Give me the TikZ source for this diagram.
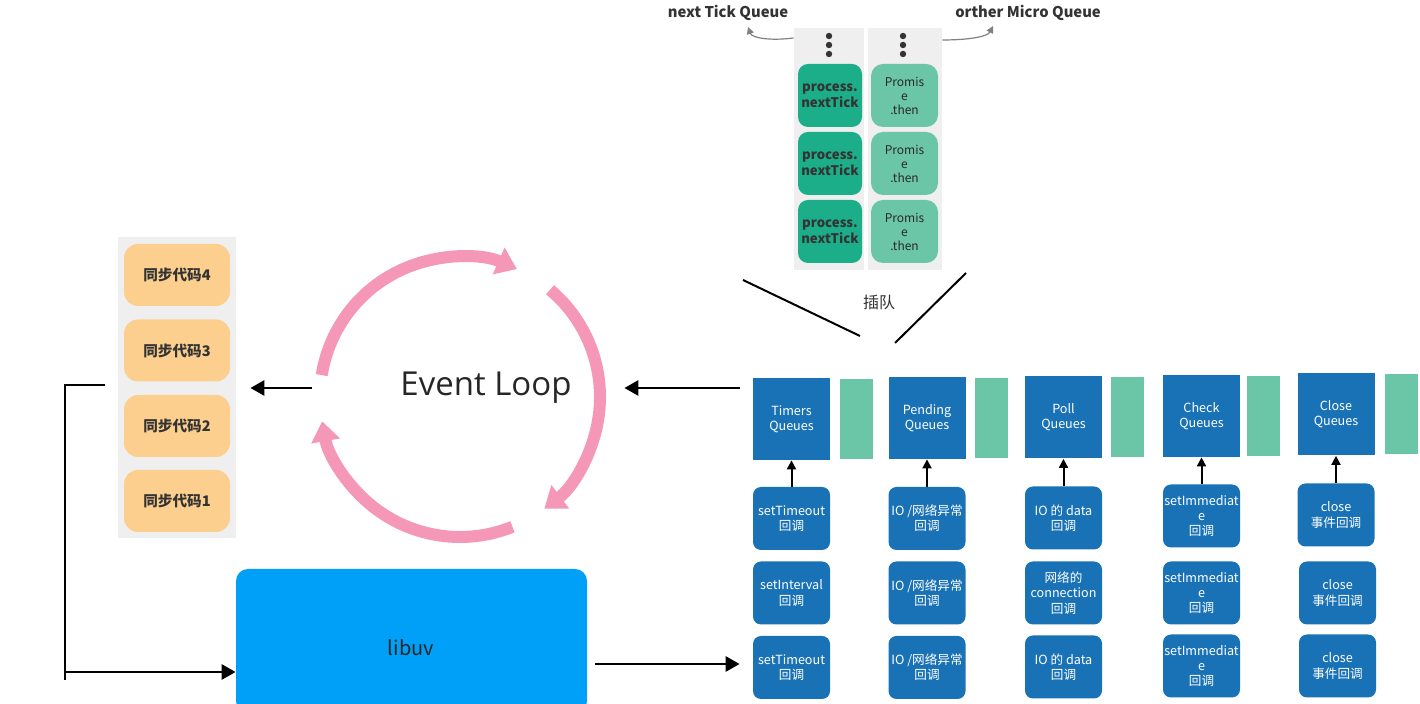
\documentclass[tikz,border=0pt]{standalone}
\usepackage{fontspec}
\setmainfont{Noto Sans CJK SC}
\newfontfamily\elfont{Open Sans}
\usetikzlibrary{arrows.meta}
\definecolor{pinkc}{HTML}{F598B8}
\definecolor{dblue}{HTML}{1A72B6}
\definecolor{lblue}{HTML}{00A0F8}
\definecolor{dgreen}{HTML}{1BAE88}
\definecolor{pgreen}{HTML}{6BC6A8}
\definecolor{orangec}{HTML}{FDCF8E}
\definecolor{grayc}{HTML}{EFEFEF}
\definecolor{txtc}{HTML}{333333}
\tikzset{
  qbox/.style={fill=dblue, text=white, minimum width=38.5pt, minimum height=41pt,
    font=\fontsize{6.3}{7.6}\selectfont, align=center, inner sep=0pt},
  cbbox/.style={qbox, rounded corners=4pt, minimum height=31.5pt},
  gbar/.style={fill=pgreen, minimum width=16.5pt, minimum height=40pt, inner sep=0pt},
  ntbox/.style={fill=dgreen, rounded corners=5pt, minimum width=32pt, minimum height=31.5pt,
    inner sep=0pt, align=center, text=txtc, font=\bfseries\fontsize{6.6}{8}\selectfont},
  prbox/.style={fill=pgreen, rounded corners=6pt, minimum width=33.5pt, minimum height=31.5pt,
    inner sep=0pt, align=center, text=txtc!80!black, font=\fontsize{6}{7}\selectfont},
  syncbox/.style={fill=orangec, rounded corners=7pt, minimum width=53pt, minimum height=31pt,
    inner sep=0pt, text=txtc, font=\bfseries\fontsize{7.3}{8}\selectfont},
  graybg/.style={fill=grayc, inner sep=0pt},
  bigarrow/.style={line width=1.4pt, -{Triangle[length=7pt,width=7.5pt]}},
  smallarrow/.style={line width=1pt, -{Triangle[length=4.5pt,width=4.5pt]}},
  looparc/.style={pinkc, line width=6pt, -{Triangle[length=10pt,width=14pt]}},
  toplabel/.style={font=\bfseries\fontsize{7.4}{9}\selectfont, text=txtc},
}
\begin{document}
\begin{tikzpicture}[x=0.5pt,y=-0.5pt]
\useasboundingbox[fill=white] (0,0) rectangle (1420,704);

% ---------- microtask queues ----------
\node[graybg, minimum width=35pt, minimum height=121pt] (ntcol) at (829,149) {};
\node[graybg, minimum width=37pt, minimum height=121pt] (prcol) at (905,149) {};
\foreach \yy in {36,45,54} {
  \fill[txtc] (829,\yy) circle (1.6pt);
  \fill[txtc] (903,\yy) circle (1.6pt);
}
\node[ntbox] (nt1) at (830,95.5) {process.\\nextTick};
\node[ntbox] (nt2) at (830,163.5) {process.\\nextTick};
\node[ntbox] (nt3) at (830,231.5) {process.\\nextTick};
\node[prbox] (pr1) at (904.5,95.5) {Promis\\e\\.then};
\node[prbox] (pr2) at (904.5,163.5) {Promis\\e\\.then};
\node[prbox] (pr3) at (904.5,231.5) {Promis\\e\\.then};

\node[toplabel] (ntlabel) at (728,13) {next Tick Queue};
\node[toplabel] (prlabel) at (1028,13) {orther Micro Queue};
\coordinate (ntl) at (748,27);
\coordinate (prl) at (993,26);
\draw[gray, line width=0.6pt, -{Triangle[length=3.5pt,width=3.5pt]}]
  (ntcol.west |- 0,38) .. controls (770,41) and (752,38) .. (ntl);
\draw[gray, line width=0.6pt, -{Triangle[length=3.5pt,width=3.5pt]}]
  (prcol.east |- 0,40) .. controls (972,40) and (988,36) .. (prl);

% insertion lines
\coordinate (l1a) at (743,280);
\coordinate (l1b) at (860,336);
\coordinate (l2a) at (966,273);
\coordinate (l2b) at (895,343);
\draw[line width=1pt] (l1a) -- (l1b);
\draw[line width=1pt] (l2a) -- (l2b);
\node[font=\fontsize{8}{9}\selectfont, text=txtc] (cd) at (879,302) {插队};

% ---------- sync code ----------
\node[graybg, minimum width=59pt, minimum height=150.5pt] (sync) at (177,387.5) {};
\node[syncbox] (s4) at (177,275) {同步代码4};
\node[syncbox] (s3) at (177,350.5) {同步代码3};
\node[syncbox] (s2) at (177,426) {同步代码2};
\node[syncbox] (s1) at (177,501) {同步代码1};

% ---------- event loop ----------
\node[circle, minimum size=140pt, inner sep=0pt] (evl) at (460,397) {};
\begin{scope}[shift={(460,397)}]
  \draw[looparc] (171:70pt) arc[start angle=171, end angle=66, radius=70pt];
  \draw[looparc] (50:70pt) arc[start angle=50, end angle=-53, radius=70pt];
  \draw[looparc] (-68:70pt) arc[start angle=-68, end angle=-170, radius=70pt];
\end{scope}
\node[font=\elfont\fontsize{16.5}{18}\selectfont, text=black!85] (eltext) at (486,388) {Event Loop};

% ---------- libuv ----------
\node[fill=lblue, rounded corners=6pt, minimum width=175.5pt, minimum height=72pt,
  inner sep=0pt] (libuv) at (411.5,641) {};
\node[font=\fontsize{10}{12}\selectfont, text=black!85] at (411,648) {libuv};

% ---------- phases ----------
\node[qbox] (q1) at (791.5,419) {Timers\\Queues};
\node[qbox] (q2) at (927,418) {Pending\\Queues};
\node[qbox] (q3) at (1063.5,417.5) {Poll\\Queues};
\node[qbox] (q4) at (1201.5,416) {Check\\Queues};
\node[qbox] (q5) at (1336,414.5) {Close\\Queues};
\node[gbar] (g1) at (856.5,419) {};
\node[gbar] (g2) at (991,418) {};
\node[gbar] (g3) at (1127.5,417.5) {};
\node[gbar] (g4) at (1263.5,416) {};
\node[gbar] (g5) at (1401.5,414.5) {};

\node[cbbox] (a1) at (791.5,518.5) {setTimeout\\回调};
\node[cbbox] (a2) at (791.5,593) {setInterval\\回调};
\node[cbbox] (a3) at (791.5,667.5) {setTimeout\\回调};
\node[cbbox] (b1) at (927,518.5) {IO /网络异常\\回调};
\node[cbbox] (b2) at (927,593) {IO /网络异常\\回调};
\node[cbbox] (b3) at (927,667.5) {IO /网络异常\\回调};
\node[cbbox] (c1) at (1063.5,518) {IO 的 data\\回调};
\node[cbbox] (c2) at (1063.5,593) {网络的\\connection\\回调};
\node[cbbox] (c3) at (1063.5,667) {IO 的 data\\回调};
\node[cbbox] (d1) at (1201.5,516) {setImmediat\\e\\回调};
\node[cbbox] (d2) at (1201.5,593) {setImmediat\\e\\回调};
\node[cbbox] (d3) at (1201.5,666) {setImmediat\\e\\回调};
\node[cbbox] (e1) at (1336,515) {close\\事件回调};
\node[cbbox] (e2) at (1337.5,593) {close\\事件回调};
\node[cbbox] (e3) at (1337.5,666) {close\\事件回调};

\foreach \c/\q in {a1/q1,b1/q2,c1/q3,d1/q4,e1/q5}
  \draw[smallarrow] (\c.north) -- (\q.south);

% ---------- main arrows ----------
\draw[bigarrow] ([xshift=-6.5pt]q1.west |- 0,388) -- ([xshift=12pt]evl.east |- 0,388);
\draw[bigarrow] ([xshift=-4pt]evl.west |- 0,388) -- ([xshift=7pt]sync.east |- 0,388);
\draw[bigarrow] ([xshift=4pt]libuv.east |- 0,664) -- ([xshift=-6.5pt]a3.west |- 0,664);
\coordinate (brtop) at (105,385);
\coordinate (brcorner) at (65,385);
\coordinate (brbot) at (65,680);
\draw[line width=1.3pt] (brtop) -- (brcorner) -- (brbot);
\draw[bigarrow] (65,672) -- (libuv.west |- 0,672);
\end{tikzpicture}
\end{document}
